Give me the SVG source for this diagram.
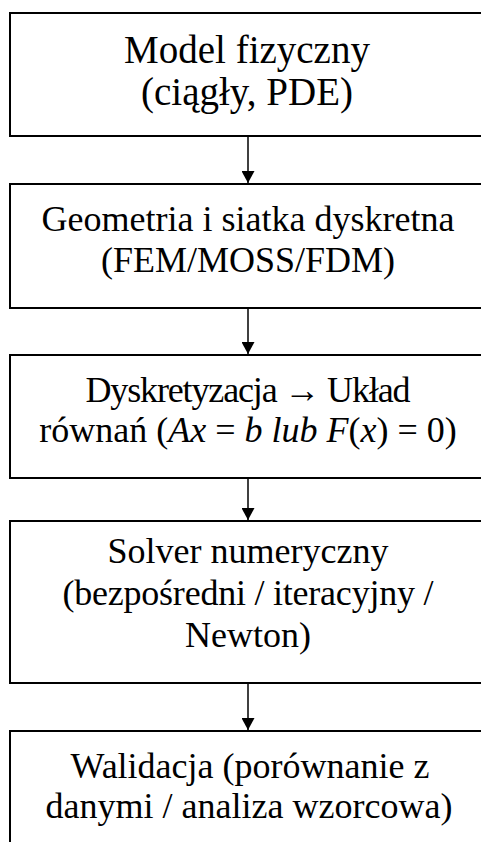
<svg xmlns="http://www.w3.org/2000/svg" width="481" height="842" viewBox="0 0 481 842">
  <style>
    .box { fill: #ffffff; stroke: #000000; stroke-width: 2; }
    .lbl { font-family: "Liberation Serif", "Times New Roman", serif; font-size: 36px; fill: #000000; text-anchor: middle; }
    .big { font-size: 39px; }
    .math { font-style: italic; }
    .conn { stroke: #000000; stroke-width: 1.5; fill: none; marker-end: url(#arrow); }
  </style>
  <defs>
    <marker id="arrow" viewBox="0 0 12 13" refX="12" refY="6.5" markerWidth="12" markerHeight="13" markerUnits="userSpaceOnUse" orient="auto">
      <path d="M0,0 L12,6.5 L0,13 Z" fill="#000000"/>
    </marker>
  </defs>
  <rect width="481" height="842" fill="#ffffff"/>

  <g id="model">
    <rect class="box" x="10" y="13" width="475" height="123"/>
    <text class="lbl big" x="247" y="63">Model fizyczny</text>
    <text class="lbl big" x="247" y="105">(ciągły, PDE)</text>
  </g>

  <g id="siatka">
    <rect class="box" x="10" y="184" width="475" height="124"/>
    <text class="lbl" x="248" y="231">Geometria i siatka dyskretna</text>
    <text class="lbl" x="248" y="272">(FEM/MOSS/FDM)</text>
  </g>

  <g id="dyskretyzacja">
    <rect class="box" x="10" y="355" width="475" height="123"/>
    <text class="lbl" x="248" y="402" textLength="325" lengthAdjust="spacing">Dyskretyzacja → Układ</text>
    <text class="lbl" x="248" y="442">równań (<tspan class="math">Ax</tspan> = <tspan class="math">b lub F</tspan>(<tspan class="math">x</tspan>) = 0)</text>
  </g>

  <g id="solver">
    <rect class="box" x="10" y="521" width="475" height="162"/>
    <text class="lbl" x="248" y="563">Solver numeryczny</text>
    <text class="lbl" x="248" y="605" textLength="371" lengthAdjust="spacing">(bezpośredni / iteracyjny /</text>
    <text class="lbl" x="248" y="647">Newton)</text>
  </g>

  <g id="walidacja">
    <rect class="box" x="10" y="731" width="475" height="130"/>
    <text class="lbl" x="250" y="778">Walidacja (porównanie z</text>
    <text class="lbl" x="249" y="818">danymi / analiza wzorcowa)</text>
  </g>

  <g id="connectors">
    <line class="conn" x1="248" y1="137" x2="248" y2="183"/>
    <line class="conn" x1="248" y1="309" x2="248" y2="354"/>
    <line class="conn" x1="248" y1="479" x2="248" y2="520"/>
    <line class="conn" x1="248" y1="684" x2="248" y2="730"/>
  </g>
</svg>
